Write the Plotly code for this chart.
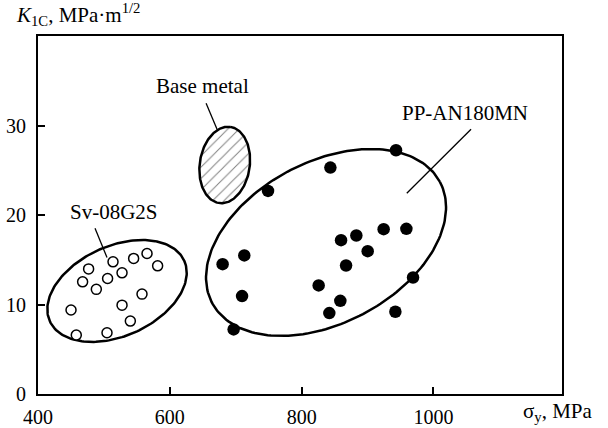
import numpy as np
import plotly.graph_objects as go

# ---- data ----
sv_sigma = [513.8, 545.1, 565.4, 581.5, 476.8, 527.5, 505.6, 467.7, 488.5, 557.8,
            527.5, 450.1, 540.1, 504.7, 458.1]
sv_k1c = [14.77, 15.15, 15.70, 14.32, 13.98, 13.54, 12.91, 12.53, 11.69, 11.16,
          9.93, 9.38, 8.15, 6.84, 6.58]

pp_sigma = [943.2, 843.6, 749.0, 924.4, 958.9, 883.0, 859.8, 900.2, 713.0, 680.1,
            867.4, 969.0, 825.8, 709.6, 858.7, 842.0, 942.2, 696.8]
pp_k1c = [27.23, 25.30, 22.69, 18.42, 18.45, 17.71, 17.19, 15.96, 15.48, 14.51,
          14.36, 13.02, 12.13, 10.94, 10.41, 9.04, 9.19, 7.22]

# group envelopes: centre (data), semi-axes (px), tilt (deg)
env_names = ["Sv-08G2S", "PP-AN180MN", "Base metal"]
env_cx = [519.9, 837.0, 683.3]
env_cy = [11.51, 16.93, 25.59]
env_a = [73.7, 129.0, 38.5]
env_b = [45.0, 80.6, 25.0]
env_deg = [24.2, 28.0, 81.5]

# labels and leader lines (data units)
lab_x = [514.9, 1047.2, 648.9]
lab_y = [20.39, 31.40, 34.41]
lead_x0 = [486.5, 1057.0, 655.0]
lead_y0 = [18.51, 29.58, 32.48]
lead_x1 = [504.7, 959.5, 672.1]
lead_y1 = [15.25, 22.43, 29.50]

x_range = [400, 1195]
y_range = [0, 40]
x_ticks = [400, 600, 800, 1000]
y_ticks = [0, 10, 20, 30]

W, H = 608, 428
ML, MR, MT, MB = 38, 46, 36, 34
PW, PH = W - ML - MR, H - MT - MB
kx = PW / (x_range[1] - x_range[0])
ky = PH / (y_range[1] - y_range[0])

FONT = "Liberation Serif"

fig = go.Figure()


def ellipse(cx, cy, a, b, deg):
    t = np.linspace(0, 2 * np.pi, 200)
    th = np.radians(deg)
    dx = a * np.cos(t) * np.cos(th) - b * np.sin(t) * np.sin(th)
    dy = a * np.cos(t) * np.sin(th) + b * np.sin(t) * np.cos(th)
    return cx + dx / kx, cy + dy / ky


for i in range(3):
    ex, ey = ellipse(env_cx[i], env_cy[i], env_a[i], env_b[i], env_deg[i])
    if env_names[i] == "Base metal":
        fig.add_trace(go.Scatter(x=ex, y=ey, mode="lines", fill="toself",
                                 fillcolor="white",
                                 fillpattern=dict(shape="/", fgcolor="black", bgcolor="white",
                                                  size=8, solidity=0.12),
                                 line=dict(color="black", width=2.5),
                                 hoverinfo="skip", showlegend=False))
    else:
        fig.add_trace(go.Scatter(x=ex, y=ey, mode="lines",
                                 line=dict(color="black", width=2.5),
                                 hoverinfo="skip", showlegend=False))

fig.add_trace(go.Scatter(x=sv_sigma, y=sv_k1c, mode="markers",
                         marker=dict(symbol="circle", size=10, color="white",
                                     line=dict(color="black", width=1.5)),
                         name="Sv-08G2S", showlegend=False))
fig.add_trace(go.Scatter(x=pp_sigma, y=pp_k1c, mode="markers",
                         marker=dict(symbol="circle", size=12.5, color="black",
                                     line=dict(color="black", width=0)),
                         name="PP-AN180MN", showlegend=False))

for i in range(3):
    fig.add_shape(type="line", x0=lead_x0[i], y0=lead_y0[i], x1=lead_x1[i], y1=lead_y1[i],
                  line=dict(color="black", width=1.3))
    fig.add_annotation(x=lab_x[i], y=lab_y[i], text=env_names[i], showarrow=False,
                       font=dict(family=FONT, size=21, color="black"),
                       xanchor="center", yanchor="middle")

fig.add_annotation(xref="paper", yref="paper", x=(14 - ML) / PW,
                   y=1 + (MT - 15) / PH,
                   text="<i>K</i><sub>1C</sub>, MPa·m<sup>1/2</sup>", showarrow=False,
                   font=dict(family=FONT, size=21, color="black"),
                   xanchor="left", yanchor="middle")
fig.add_annotation(xref="paper", yref="paper", x=(595 - ML) / PW,
                   y=-(412 - (H - MB)) / PH,
                   text="σ<sub>y</sub>, MPa", showarrow=False,
                   font=dict(family=FONT, size=21, color="black"),
                   xanchor="right", yanchor="middle")

axis_common = dict(showline=True, mirror=True, linecolor="black", linewidth=2,
                   ticks="inside", ticklen=7, tickwidth=1.5, tickcolor="black",
                   showgrid=False, zeroline=False, automargin=False,
                   tickfont=dict(family=FONT, size=20, color="black"))
fig.update_xaxes(range=x_range, tickvals=x_ticks, ticklabelstandoff=4, **axis_common)
fig.update_yaxes(range=y_range, tickvals=y_ticks, ticklabelstandoff=6, **axis_common)

fig.update_layout(width=W, height=H, margin=dict(l=ML, r=MR, t=MT, b=MB, autoexpand=False),
                  plot_bgcolor="white", paper_bgcolor="white", showlegend=False)

fig.write_html("out.html", config={"displayModeBar": False},
               post_script="document.body.style.margin='0px';document.body.style.padding='0px';")
